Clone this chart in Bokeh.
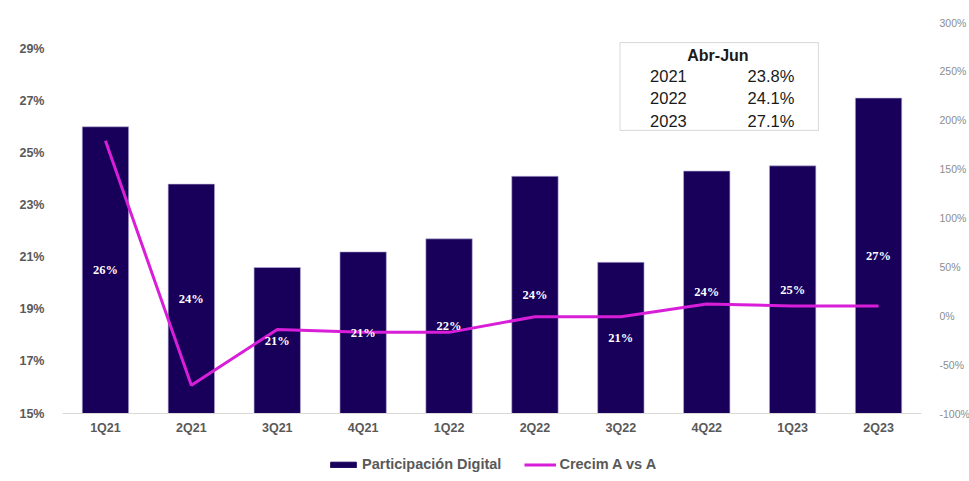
from bokeh.plotting import figure
from bokeh.layouts import column
from bokeh.models import (Range1d, LinearAxis, FixedTicker, Legend, LegendItem,
                          ColumnDataSource, LabelSet, BoxAnnotation, Label)
from bokeh.embed import file_html
from bokeh.resources import INLINE

quarters = ["1Q21", "2Q21", "3Q21", "4Q21", "1Q22", "2Q22", "3Q22", "4Q22", "1Q23", "2Q23"]
participacion = [26.0, 23.8, 20.6, 21.2, 21.7, 24.1, 20.8, 24.3, 24.5, 27.1]
crecimiento = [179, -71, -14, -17, -17, -1, -1, 12, 10, 10]
table_years = ["2021", "2022", "2023"]
table_values = ["23.8%", "24.1%", "27.1%"]
left_ticks = [15, 17, 19, 21, 23, 25, 27, 29]
right_ticks = [-100, -50, 0, 50, 100, 150, 200, 250, 300]
series_names = ["Participación Digital", "Crecim A vs A"]

NAVY = "#18005A"
MAGENTA = "#D81ED8"
FONT = "Liberation Sans"

xs = list(range(len(quarters)))
src = ColumnDataSource(dict(
    x=xs, top=participacion, growth=crecimiento,
    mid=[(v + 15) / 2 for v in participacion],
    lab=["%d%%" % int(v + 0.5) for v in participacion],
))

p = figure(frame_width=859, frame_height=391, output_backend="svg", toolbar_location=None,
           x_range=Range1d(-0.5, 9.5), y_range=Range1d(15, 30),
           min_border_left=62, min_border_right=40, min_border_top=22, min_border_bottom=37,
           outline_line_color=None, border_fill_color="white")
p.grid.grid_line_color = None
p.extra_y_ranges = {"g": Range1d(-100, 300)}

bars = p.vbar(x="x", top="top", bottom=15, width=0.54, source=src,
              fill_color=NAVY, line_color="#B9B0D6", line_width=0.6)
line = p.line(x="x", y="growth", source=src, y_range_name="g",
              line_color=MAGENTA, line_width=3)

p.add_layout(LabelSet(x="x", y="mid", text="lab", source=src, text_align="center",
                      text_baseline="middle", text_color="white", text_font=FONT,
                      text_font_style="bold", text_font_size="12.5px"))

# axes
p.xaxis.ticker = FixedTicker(ticks=xs)
p.xaxis.major_label_overrides = {i: q for i, q in enumerate(quarters)}
p.xaxis.axis_line_color = "#D9D9D9"
p.xaxis.major_tick_line_color = None
p.xaxis.minor_tick_line_color = None
p.xaxis.major_tick_out = 0
p.xaxis.major_tick_in = 0
p.xaxis.major_label_text_font = FONT
p.xaxis.major_label_text_font_size = "12.5px"
p.xaxis.major_label_text_font_style = "bold"
p.xaxis.major_label_text_color = "#595959"
p.xaxis.major_label_standoff = 7

p.yaxis.ticker = FixedTicker(ticks=left_ticks)
p.yaxis.major_label_overrides = {t: "%d%%" % t for t in left_ticks}
p.yaxis.axis_line_color = None
p.yaxis.major_tick_line_color = None
p.yaxis.minor_tick_line_color = None
p.yaxis.major_label_text_font = FONT
p.yaxis.major_label_text_font_size = "12.5px"
p.yaxis.major_label_text_font_style = "bold"
p.yaxis.major_label_text_color = "#595959"
p.yaxis.major_label_standoff = 12

ry = LinearAxis(y_range_name="g", ticker=FixedTicker(ticks=right_ticks))
ry.major_label_overrides = {t: "%d%%" % t for t in right_ticks}
ry.axis_line_color = None
ry.major_tick_line_color = None
ry.minor_tick_line_color = None
ry.major_label_text_font = FONT
ry.major_label_text_font_size = "10.5px"
ry.major_label_text_color = "#8C8C8C"
ry.major_label_standoff = 12
p.add_layout(ry, "right")

# summary table
p.add_layout(BoxAnnotation(left=5.99, right=8.30, top=29.23, bottom=25.86,
                           fill_color="white", fill_alpha=1,
                           line_color="#808080", line_width=1))
p.add_layout(Label(x=7.13, y=28.73, text="Abr-Jun", text_align="center",
                   text_baseline="middle", text_font=FONT, text_font_style="bold",
                   text_font_size="16px", text_color="#1a1a1a"))
for i, (yr, v) in enumerate(zip(table_years, table_values)):
    yy = 27.93 - i * 0.845
    p.add_layout(Label(x=6.34, y=yy, text=yr, text_align="left", text_baseline="middle",
                       text_font=FONT, text_font_size="16.5px", text_color="#1a1a1a"))
    p.add_layout(Label(x=8.02, y=yy, text=v, text_align="right", text_baseline="middle",
                       text_font=FONT, text_font_size="16.5px", text_color="#1a1a1a"))

# legend strip beneath the chart (series renderers kept out of its view range)
lg = figure(width=961, height=26, output_backend="svg", toolbar_location=None,
            x_range=Range1d(100, 101), y_range=Range1d(1000, 1001),
            min_border=0, outline_line_color=None, border_fill_color="white")
lg.axis.visible = False
lg.grid.grid_line_color = None
sw_bar = lg.vbar(x="x", top="top", bottom=15, width=0.54, source=src,
                 fill_color=NAVY, line_color=NAVY)
sw_line = lg.line(x="x", y="growth", source=src, line_color=MAGENTA, line_width=3)
legend = Legend(items=[LegendItem(label=series_names[0], renderers=[sw_bar]),
                       LegendItem(label=series_names[1], renderers=[sw_line])],
                orientation="horizontal", location=(265, 4),
                border_line_color=None, background_fill_alpha=0,
                label_text_font=FONT, label_text_font_size="14.5px",
                label_text_font_style="bold", label_text_color="#595959",
                glyph_width=32, glyph_height=7, spacing=23, label_standoff=3,
                padding=0, margin=0)
lg.add_layout(legend, "center")

open("out.html", "w").write(file_html(column(p, lg, spacing=0), INLINE))
